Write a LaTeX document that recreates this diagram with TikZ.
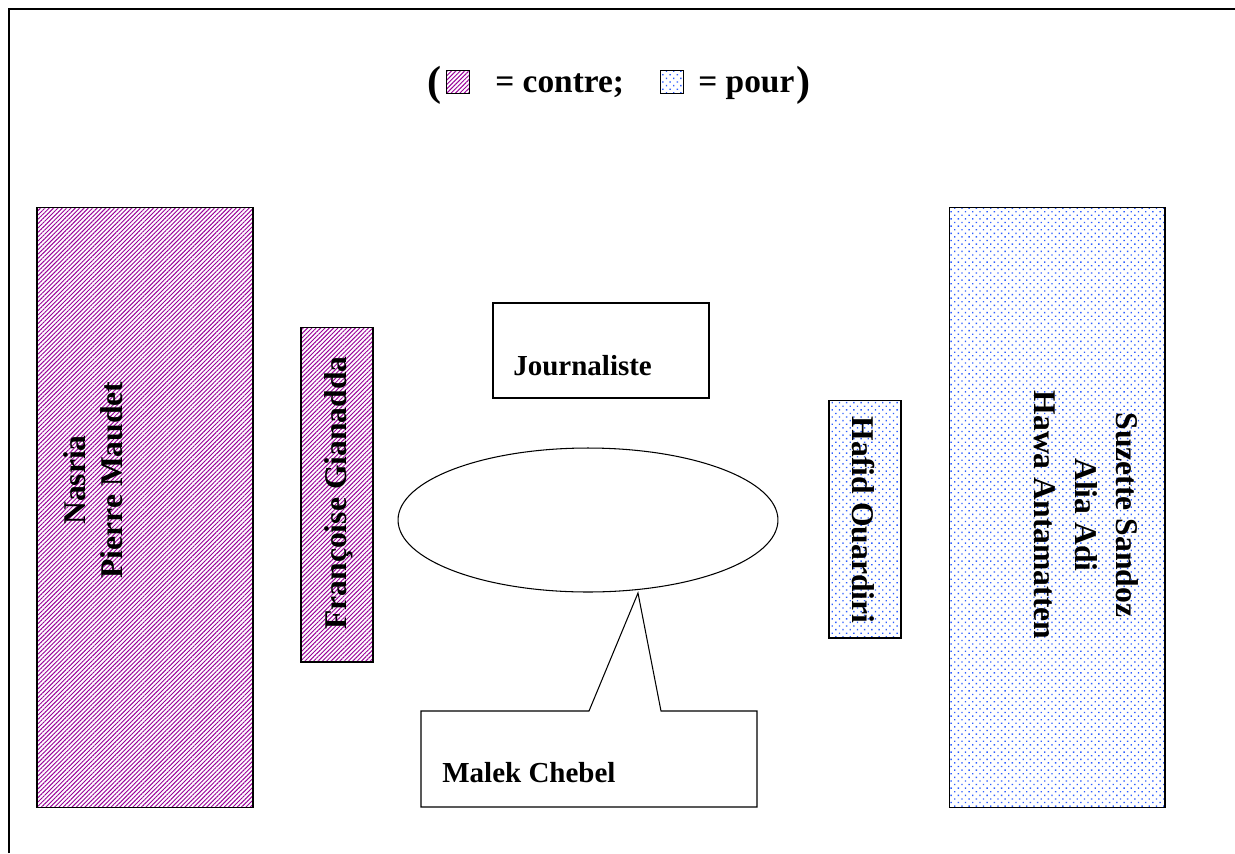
\documentclass[tikz,border=0pt]{standalone}
\usepackage{fontspec}
\setmainfont{Liberation Serif}
\usetikzlibrary{positioning,shapes.geometric,patterns.meta}
\definecolor{contrepurple}{HTML}{990099}
\definecolor{pourblue}{HTML}{2F5FFF}

\begin{document}
\begin{tikzpicture}[x=0.02cm, y=-0.02cm,
  contrebox/.style={draw, line width=0.6pt, inner sep=0pt,
    pattern={Lines[angle=45,distance=1.75pt,line width=0.55pt]}, pattern color=contrepurple},
  pourbox/.style={draw, line width=0.6pt, inner sep=0pt,
    pattern={Dots[angle=45,distance=2.9pt,radius=0.55pt]}, pattern color=pourblue},
  plainbox/.style={draw, line width=0.6pt, inner sep=0pt},
  bigname/.style={font=\bfseries\fontsize{18}{22}\selectfont, align=center, inner sep=0pt},
  smallname/.style={font=\bfseries\fontsize{16.5}{20}\selectfont, anchor=west, inner sep=0pt},
  legendtext/.style={font=\bfseries\fontsize{19}{22}\selectfont, anchor=base west, inner sep=0pt},
  paren/.style={font=\bfseries\fontsize{24}{28}\selectfont, anchor=base west, inner sep=0pt}
]
\useasboundingbox (0,0) rectangle (1235,853);
% cadre
\draw[line width=1.2pt] (9,853) -- (9,9) -- (1235,9);

% legende
\node[paren] (popen) at (427,95) {(};
\node[contrebox, line width=1pt, minimum size=0.46cm] (sqcontre) at (458,82) {};
\node[legendtext] (tcontre) at (495,92) {= contre;};
\node[pourbox, line width=1pt, minimum size=0.46cm] (sqpour) at (672,82) {};
\node[legendtext] (tpour) at (698,92) {= pour};
\node[paren] (pclose) at (796,95) {)};

% contre
\node[contrebox, minimum width=4.32cm, minimum height=12.02cm] (nasria) at (145,507.5) {};
\node[bigname, rotate=90, font=\bfseries\fontsize{18}{21}\selectfont] (nasriatext) at (93,480) {Nasria\\Pierre Maudet};
\node[contrebox, minimum width=1.44cm, minimum height=6.7cm] (francoise) at (337,494.5) {};
\node[bigname, rotate=90] (francoisetext) at (339,493) {Françoise Gianadda};

% centre
\node[plainbox, minimum width=4.32cm, minimum height=1.9cm] (journaliste) at (601,350.5) {};
\node[smallname] (journalistetext) at (513,366) {Journaliste};
\node[draw, ellipse, line width=0.6pt, minimum width=7.6cm, minimum height=2.88cm] (debat) at (588,520) {};
\coordinate (bulle) at (638,593);
\draw[line width=0.6pt] (589,711) -- (bulle) -- (661,711) -- (757,711) -- (757,807)
  -- (421,807) -- (421,711) -- cycle;
\node[smallname] (malek) at (442,773) {Malek Chebel};

% pour
\node[pourbox, minimum width=1.44cm, minimum height=4.76cm] (hafid) at (865,519) {};
\node[bigname, rotate=-90] (hafidtext) at (863,520) {Hafid Ouardiri};
\node[pourbox, minimum width=4.32cm, minimum height=12.02cm] (suzette) at (1057,507.5) {};
\node[bigname, rotate=-90, font=\bfseries\fontsize{18}{23.3}\selectfont] (suzettetext) at (1086,515)
  {Suzette Sandoz\\Alia Adi\\Hawa Antamatten};
\end{tikzpicture}
\end{document}
